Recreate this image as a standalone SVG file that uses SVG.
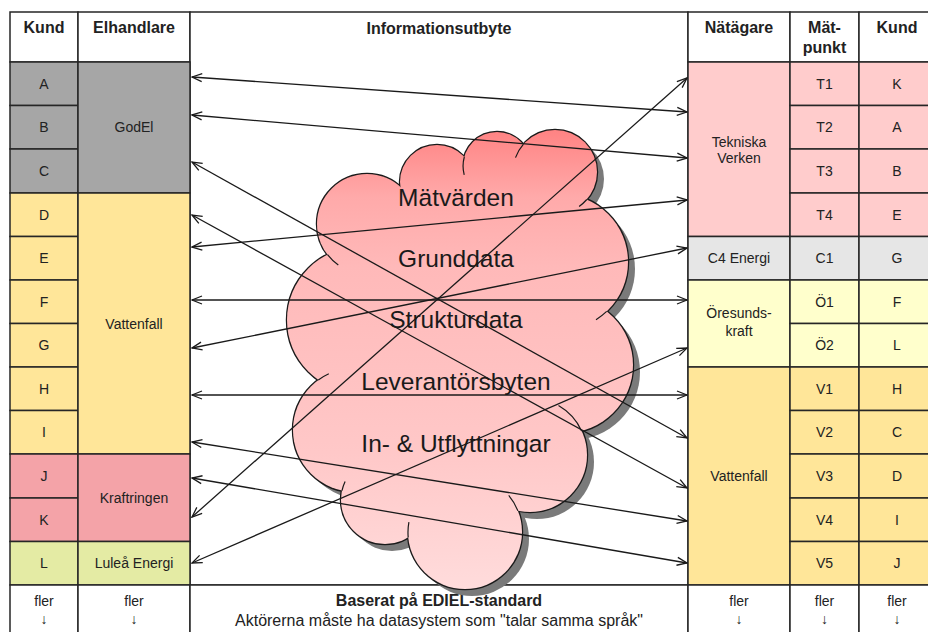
<svg xmlns="http://www.w3.org/2000/svg" width="928" height="632" viewBox="0 0 928 632">
<defs>
<style>
.c{stroke:#262626;stroke-width:1.5}
.t{font-family:"Liberation Sans",Arial,sans-serif;font-size:14px;fill:#222;text-anchor:middle}
.h{font-family:"Liberation Sans",Arial,sans-serif;font-size:16px;font-weight:bold;fill:#222;text-anchor:middle}
.f{font-family:"Liberation Sans",Arial,sans-serif;font-size:16px;fill:#222;text-anchor:middle}
.ct{font-family:"Liberation Sans",Arial,sans-serif;font-size:24.5px;fill:#1a1a1a;text-anchor:middle}
.gray{fill:#a6a6a6}.yel{fill:#ffe699}.red{fill:#f4a3a8}.grn{fill:#e4eba4}
.pink{fill:#ffcccc}.lg{fill:#e6e6e6}.ly{fill:#ffffcc}.w{fill:#ffffff}
.ln{stroke:#1a1a1a;stroke-width:1.3;fill:none;marker-start:url(#ah);marker-end:url(#ah)}
.sh{fill:#7a7a7a}
.cs{fill:none;stroke:#1a1a1a;stroke-width:2.4}
.cf{fill:url(#cg)}
.tk{fill:none;stroke:#1a1a1a;stroke-width:1.2}
</style>
<marker id="ah" viewBox="0 0 12 10" refX="11" refY="5" markerWidth="12" markerHeight="10" markerUnits="userSpaceOnUse" orient="auto-start-reverse">
<path d="M1,1 L11,5 L1,9" fill="none" stroke="#1a1a1a" stroke-width="1.3"/>
</marker>
<linearGradient id="cg" gradientUnits="userSpaceOnUse" x1="0" y1="128" x2="0" y2="592">
<stop offset="0" stop-color="#ff8282"/>
<stop offset="0.15" stop-color="#ffaaaa"/>
<stop offset="0.3" stop-color="#ffb9b9"/>
<stop offset="0.7" stop-color="#ffc8c8"/>
<stop offset="1" stop-color="#ffdcdc"/>
</linearGradient>
<g id="cloudshape">
<circle cx="367" cy="224" r="50"/>
<circle cx="437" cy="182" r="37"/>
<circle cx="497" cy="166" r="34"/>
<circle cx="555" cy="172" r="42"/>
<circle cx="560" cy="262" r="68"/>
<circle cx="565" cy="365" r="68"/>
<circle cx="530" cy="455" r="57"/>
<circle cx="465" cy="532" r="57"/>
<circle cx="385" cy="500" r="44"/>
<circle cx="355" cy="430" r="62"/>
<circle cx="360" cy="320" r="73"/>
<ellipse cx="460" cy="330" rx="140" ry="150"/>
<circle cx="510" cy="215" r="35"/>
<ellipse cx="455" cy="470" rx="45" ry="30"/>
</g>
</defs>

<!-- header row -->
<g id="hdr-kund-l"><rect class="c w" x="10" y="12" width="68" height="50"/><text class="h" x="44" y="33">Kund</text></g>
<g id="hdr-elhandlare"><rect class="c w" x="78" y="12" width="112" height="50"/><text class="h" x="134" y="33">Elhandlare</text></g>
<g id="info"><rect class="c w" x="190" y="12" width="498" height="573"/><text class="h" x="439" y="34" font-size="17.5">Informationsutbyte</text></g>
<g id="hdr-natagare"><rect class="c w" x="688" y="12" width="102" height="50"/><text class="h" x="739" y="33">Nätägare</text></g>
<g id="hdr-matpunkt"><rect class="c w" x="790" y="12" width="69" height="50"/><text class="h" x="824.5" y="33">Mät-</text><text class="h" x="824.5" y="53">punkt</text></g>
<g id="hdr-kund-r"><rect class="c w" x="859" y="12" width="77" height="50"/><text class="h" x="897" y="33">Kund</text></g>

<!-- left kund cells -->
<g id="kA"><rect class="c gray" x="10" y="62" width="68" height="43.5"/><text class="t" x="44" y="89">A</text></g>
<g id="kB"><rect class="c gray" x="10" y="105.5" width="68" height="43.5"/><text class="t" x="44" y="132">B</text></g>
<g id="kC"><rect class="c gray" x="10" y="149" width="68" height="44"/><text class="t" x="44" y="176">C</text></g>
<g id="kD"><rect class="c yel" x="10" y="193" width="68" height="43.5"/><text class="t" x="44" y="220">D</text></g>
<g id="kE"><rect class="c yel" x="10" y="236.5" width="68" height="43.5"/><text class="t" x="44" y="263">E</text></g>
<g id="kF"><rect class="c yel" x="10" y="280" width="68" height="43.5"/><text class="t" x="44" y="307">F</text></g>
<g id="kG"><rect class="c yel" x="10" y="323.5" width="68" height="43.5"/><text class="t" x="44" y="350">G</text></g>
<g id="kH"><rect class="c yel" x="10" y="367" width="68" height="43.5"/><text class="t" x="44" y="394">H</text></g>
<g id="kI"><rect class="c yel" x="10" y="410.5" width="68" height="43.5"/><text class="t" x="44" y="437">I</text></g>
<g id="kJ"><rect class="c red" x="10" y="454" width="68" height="44"/><text class="t" x="44" y="481">J</text></g>
<g id="kK"><rect class="c red" x="10" y="498" width="68" height="43.5"/><text class="t" x="44" y="525">K</text></g>
<g id="kL"><rect class="c grn" x="10" y="541.5" width="68" height="43.5"/><text class="t" x="44" y="568">L</text></g>

<!-- elhandlare -->
<g id="godel"><rect class="c gray" x="78" y="62" width="112" height="131"/><text class="t" x="134" y="132">GodEl</text></g>
<g id="vattenfall-l"><rect class="c yel" x="78" y="193" width="112" height="261"/><text class="t" x="134" y="329">Vattenfall</text></g>
<g id="kraftringen"><rect class="c red" x="78" y="454" width="112" height="87.5"/><text class="t" x="134" y="503">Kraftringen</text></g>
<g id="lulea"><rect class="c grn" x="78" y="541.5" width="112" height="43.5"/><text class="t" x="134" y="568">Luleå Energi</text></g>

<!-- natagare -->
<g id="tekniska"><rect class="c pink" x="688" y="62" width="102" height="174.5"/><text class="t" x="739" y="146.5">Tekniska</text><text class="t" x="739" y="163">Verken</text></g>
<g id="c4"><rect class="c lg" x="688" y="236.5" width="102" height="43.5"/><text class="t" x="739" y="263">C4 Energi</text></g>
<g id="oresund"><rect class="c ly" x="688" y="280" width="102" height="87"/><text class="t" x="739" y="318">Öresunds-</text><text class="t" x="739" y="336">kraft</text></g>
<g id="vattenfall-r"><rect class="c yel" x="688" y="367" width="102" height="218"/><text class="t" x="739" y="481">Vattenfall</text></g>

<!-- matpunkt -->
<g id="mT1"><rect class="c pink" x="790" y="62" width="69" height="43.5"/><text class="t" x="824.5" y="89">T1</text></g>
<g id="mT2"><rect class="c pink" x="790" y="105.5" width="69" height="43.5"/><text class="t" x="824.5" y="132">T2</text></g>
<g id="mT3"><rect class="c pink" x="790" y="149" width="69" height="44"/><text class="t" x="824.5" y="176">T3</text></g>
<g id="mT4"><rect class="c pink" x="790" y="193" width="69" height="43.5"/><text class="t" x="824.5" y="220">T4</text></g>
<g id="mC1"><rect class="c lg" x="790" y="236.5" width="69" height="43.5"/><text class="t" x="824.5" y="263">C1</text></g>
<g id="mO1"><rect class="c ly" x="790" y="280" width="69" height="43.5"/><text class="t" x="824.5" y="307">Ö1</text></g>
<g id="mO2"><rect class="c ly" x="790" y="323.5" width="69" height="43.5"/><text class="t" x="824.5" y="350">Ö2</text></g>
<g id="mV1"><rect class="c yel" x="790" y="367" width="69" height="43.5"/><text class="t" x="824.5" y="394">V1</text></g>
<g id="mV2"><rect class="c yel" x="790" y="410.5" width="69" height="43.5"/><text class="t" x="824.5" y="437">V2</text></g>
<g id="mV3"><rect class="c yel" x="790" y="454" width="69" height="44"/><text class="t" x="824.5" y="481">V3</text></g>
<g id="mV4"><rect class="c yel" x="790" y="498" width="69" height="43.5"/><text class="t" x="824.5" y="525">V4</text></g>
<g id="mV5"><rect class="c yel" x="790" y="541.5" width="69" height="43.5"/><text class="t" x="824.5" y="568">V5</text></g>

<!-- right kund -->
<g id="rK"><rect class="c pink" x="859" y="62" width="77" height="43.5"/><text class="t" x="897" y="89">K</text></g>
<g id="rA"><rect class="c pink" x="859" y="105.5" width="77" height="43.5"/><text class="t" x="897" y="132">A</text></g>
<g id="rB"><rect class="c pink" x="859" y="149" width="77" height="44"/><text class="t" x="897" y="176">B</text></g>
<g id="rE"><rect class="c pink" x="859" y="193" width="77" height="43.5"/><text class="t" x="897" y="220">E</text></g>
<g id="rG"><rect class="c lg" x="859" y="236.5" width="77" height="43.5"/><text class="t" x="897" y="263">G</text></g>
<g id="rF"><rect class="c ly" x="859" y="280" width="77" height="43.5"/><text class="t" x="897" y="307">F</text></g>
<g id="rL"><rect class="c ly" x="859" y="323.5" width="77" height="43.5"/><text class="t" x="897" y="350">L</text></g>
<g id="rH"><rect class="c yel" x="859" y="367" width="77" height="43.5"/><text class="t" x="897" y="394">H</text></g>
<g id="rC"><rect class="c yel" x="859" y="410.5" width="77" height="43.5"/><text class="t" x="897" y="437">C</text></g>
<g id="rD"><rect class="c yel" x="859" y="454" width="77" height="44"/><text class="t" x="897" y="481">D</text></g>
<g id="rI"><rect class="c yel" x="859" y="498" width="77" height="43.5"/><text class="t" x="897" y="525">I</text></g>
<g id="rJ"><rect class="c yel" x="859" y="541.5" width="77" height="43.5"/><text class="t" x="897" y="568">J</text></g>

<!-- footer -->
<g id="ft-kund-l"><rect class="c w" x="10" y="585" width="68" height="55"/><text class="t" x="44" y="606">fler</text><text class="t" x="44" y="624">↓</text></g>
<g id="ft-elh"><rect class="c w" x="78" y="585" width="112" height="55"/><text class="t" x="134" y="606">fler</text><text class="t" x="134" y="624">↓</text></g>
<g id="ft-info"><rect class="c w" x="190" y="585" width="498" height="55"/><text class="f" x="439" y="606" font-weight="bold">Baserat på EDIEL-standard</text><text class="f" x="439" y="626">Aktörerna måste ha datasystem som "talar samma språk"</text></g>
<g id="ft-nat"><rect class="c w" x="688" y="585" width="102" height="55"/><text class="t" x="739" y="606">fler</text><text class="t" x="739" y="624">↓</text></g>
<g id="ft-mat"><rect class="c w" x="790" y="585" width="69" height="55"/><text class="t" x="824.5" y="606">fler</text><text class="t" x="824.5" y="624">↓</text></g>
<g id="ft-kund-r"><rect class="c w" x="859" y="585" width="77" height="55"/><text class="t" x="897" y="606">fler</text><text class="t" x="897" y="624">↓</text></g>

<!-- cloud -->
<g id="cloud">
<use href="#cloudshape" class="sh" transform="translate(7,7)"/>
<use href="#cloudshape" class="cs"/>
<use href="#cloudshape" class="cf"/>
<path class="tk" d="M464.3,157 A34,34 0 0 0 464.2,174.8 M523.3,144.4 A42,42 0 0 0 515.5,157.6 M586.8,199.5 A42,42 0 0 1 579.1,206.4 M606.7,311.4 A68,68 0 0 1 596,319.7 M581.6,430.9 A57,57 0 0 0 558.5,405.6 M517.8,510.7 A57,57 0 0 0 508.7,495.4 M408.2,537.4 A57,57 0 0 1 408.9,522.1 M342,490.6 A44,44 0 0 1 345.1,481.4 M318.3,380 A62,62 0 0 1 328.8,373.8 M327.5,254.7 A50,50 0 0 0 338.3,265"/>
<text class="ct" x="456" y="206">Mätvärden</text>
<text class="ct" x="456" y="267">Grunddata</text>
<text class="ct" x="456" y="328">Strukturdata</text>
<text class="ct" x="456" y="390">Leverantörsbyten</text>
<text class="ct" x="456" y="452">In- &amp; Utflyttningar</text>
</g>

<!-- connectors -->
<g id="connectors">
<line class="ln" x1="192" y1="77" x2="687" y2="112"/>
<line class="ln" x1="192" y1="115" x2="687" y2="158"/>
<line class="ln" x1="192" y1="162" x2="687" y2="438"/>
<line class="ln" x1="192" y1="215" x2="687" y2="488"/>
<line class="ln" x1="192" y1="247" x2="687" y2="200"/>
<line class="ln" x1="192" y1="300" x2="687" y2="300"/>
<line class="ln" x1="192" y1="348" x2="687" y2="248"/>
<line class="ln" x1="192" y1="395" x2="687" y2="395"/>
<line class="ln" x1="192" y1="442" x2="687" y2="521"/>
<line class="ln" x1="192" y1="478" x2="687" y2="563"/>
<line class="ln" x1="192" y1="517" x2="687" y2="78"/>
<line class="ln" x1="192" y1="563" x2="687" y2="348"/>
</g>
</svg>
